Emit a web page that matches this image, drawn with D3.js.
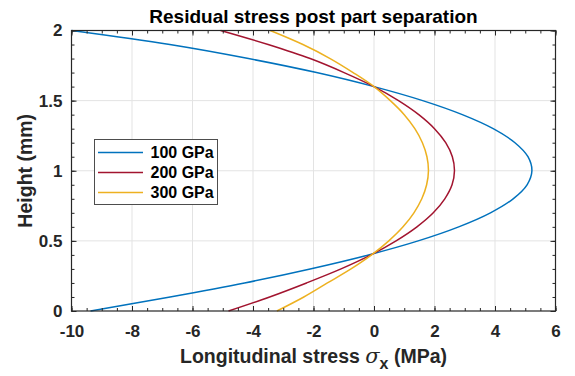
<!DOCTYPE html>
<html>
<head>
<meta charset="utf-8">
<script src="https://cdn.jsdelivr.net/npm/d3@7"></script>
<style>
  html, body { margin: 0; padding: 0; background: #fff; }
  svg { display: block; font-family: "Liberation Sans", Arial, Helvetica, sans-serif; }
</style>
</head>
<body>
<svg id="chart" width="575" height="376"></svg>
<script>
// Height through the part (mm)
const heights = [0.0, 0.1, 0.2, 0.3, 0.4, 0.5, 0.6, 0.7, 0.8, 0.9, 1.0,
                 1.1, 1.2, 1.3, 1.4, 1.5, 1.6, 1.7, 1.8, 1.9, 2.0];

// Longitudinal stress (MPa) at each height, per elastic modulus
const stress100 = [-9.37, -6.74, -4.28, -2.11, -0.18, 1.46, 2.80, 3.85, 4.60, 5.06, 5.22,
                   5.09, 4.66, 3.94, 2.92, 1.61, 0.00, -1.90, -4.15, -6.75, -10.0];
const stress200 = [-4.81, -3.45, -2.23, -1.09, -0.10, 0.73, 1.42, 1.96, 2.34, 2.58, 2.66,
                   2.59, 2.37, 2.00, 1.48, 0.81, 0.00, -0.99, -2.11, -3.50, -5.07];
const stress300 = [-3.21, -2.32, -1.54, -0.76, -0.08, 0.49, 0.96, 1.32, 1.58, 1.74, 1.80,
                   1.75, 1.60, 1.35, 1.00, 0.54, 0.00, -0.69, -1.45, -2.35, -3.43];

const seriesNames = ["100 GPa", "200 GPa", "300 GPa"];
const seriesColors = ["#0072BD", "#A2142F", "#EDB120"];
const seriesValues = [stress100, stress200, stress300];

const xTicks = [-10, -8, -6, -4, -2, 0, 2, 4, 6];
const yTicks = [0, 0.5, 1, 1.5, 2];

const svg = d3.select("#chart");
const margin = { left: 71.5, right: 19.5, top: 30.5, bottom: 65 };
const W = 575, H = 376;
const iw = W - margin.left - margin.right;
const ih = H - margin.top - margin.bottom;

const x = d3.scaleLinear().domain([-10, 6]).range([margin.left, margin.left + iw]);
const y = d3.scaleLinear().domain([0, 2]).range([margin.top + ih, margin.top]);

const axisColor = "#262626";
const g = svg.append("g");

// Grid
g.append("g").selectAll("line").data(xTicks.slice(1, -1)).join("line")
  .attr("x1", d => x(d)).attr("x2", d => x(d))
  .attr("y1", y(0)).attr("y2", y(2))
  .attr("stroke", "#e3e3e3").attr("stroke-width", 1);
g.append("g").selectAll("line").data(yTicks.slice(1, -1)).join("line")
  .attr("x1", x(-10)).attr("x2", x(6))
  .attr("y1", d => y(d)).attr("y2", d => y(d))
  .attr("stroke", "#e3e3e3").attr("stroke-width", 1);

// Curves
const line = d3.line()
  .x(d => x(d[0]))
  .y(d => y(d[1]))
  .curve(d3.curveCatmullRom.alpha(0.5));

const plot = g.append("g");
seriesValues.forEach((vals, i) => {
  const pts = vals.map((v, j) => [v, heights[j]]);
  plot.append("path")
    .datum(pts)
    .attr("d", line)
    .attr("fill", "none")
    .attr("stroke", seriesColors[i])
    .attr("stroke-width", 1.5);
});

// Axes with inward ticks on all four sides
const xMinor = d3.range(-10, 6.001, 0.5);
const yMinor = d3.range(0, 2.0001, 0.1);

function addAxis(axisGen, transform) {
  const a = g.append("g").attr("transform", transform).call(axisGen);
  a.select(".domain").remove();
  a.selectAll(".tick line").attr("stroke", axisColor).attr("stroke-width", 1);
  return a;
}

const bx = addAxis(d3.axisBottom(x).tickValues(xTicks).tickSize(-5).tickPadding(14)
  .tickFormat(d => d3.format("d")(d).replace("−", "-")), `translate(0,${y(0)})`);
bx.selectAll("text").attr("font-size", 17).attr("font-weight", "bold").attr("fill", axisColor);
addAxis(d3.axisBottom(x).tickValues(xMinor).tickSize(-3).tickFormat(""), `translate(0,${y(0)})`);
addAxis(d3.axisTop(x).tickValues(xTicks).tickSize(-5).tickFormat(""), `translate(0,${y(2)})`);
addAxis(d3.axisTop(x).tickValues(xMinor).tickSize(-3).tickFormat(""), `translate(0,${y(2)})`);

const ly = addAxis(d3.axisLeft(y).tickValues(yTicks).tickSize(-5).tickPadding(9)
  .tickFormat(d => String(d)), `translate(${x(-10)},0)`);
ly.selectAll("text").attr("font-size", 17).attr("font-weight", "bold").attr("fill", axisColor);
addAxis(d3.axisLeft(y).tickValues(yMinor).tickSize(-3).tickFormat(""), `translate(${x(-10)},0)`);
addAxis(d3.axisRight(y).tickValues(yTicks).tickSize(-5).tickFormat(""), `translate(${x(6)},0)`);
addAxis(d3.axisRight(y).tickValues(yMinor).tickSize(-3).tickFormat(""), `translate(${x(6)},0)`);

// Box
g.append("rect")
  .attr("x", x(-10)).attr("y", y(2))
  .attr("width", x(6) - x(-10)).attr("height", y(0) - y(2))
  .attr("fill", "none").attr("stroke", axisColor).attr("stroke-width", 1.2);

// Title
svg.append("text")
  .attr("x", (x(-10) + x(6)) / 2).attr("y", 23)
  .attr("text-anchor", "middle")
  .attr("font-size", 19).attr("font-weight", "bold").attr("fill", "#000")
  .text("Residual stress post part separation");

// X axis label
const xl = svg.append("text")
  .attr("x", (x(-10) + x(6)) / 2).attr("y", 362.5)
  .attr("text-anchor", "middle")
  .attr("font-size", 19.5).attr("font-weight", "bold").attr("fill", axisColor);
xl.append("tspan").text("Longitudinal stress ");
xl.append("tspan").attr("font-style", "italic").attr("font-weight", "normal")
  .attr("font-family", "'DejaVu Serif', 'Liberation Serif', serif").attr("font-size", 21).text("σ");
xl.append("tspan").attr("dy", 6).attr("font-size", 16).text("x");
xl.append("tspan").attr("dy", -6).text(" (MPa)");

// Y axis label
svg.append("text")
  .attr("transform", `translate(32,${(y(0) + y(2)) / 2}) rotate(-90)`)
  .attr("text-anchor", "middle")
  .attr("font-size", 19.5).attr("font-weight", "bold").attr("fill", axisColor)
  .text("Height (mm)");

// Legend
const lg = svg.append("g");
lg.append("rect")
  .attr("x", 94.5).attr("y", 139.5).attr("width", 123).attr("height", 65)
  .attr("fill", "#fff").attr("stroke", "#4d4d4d").attr("stroke-width", 1);
seriesNames.forEach((name, i) => {
  const cy = 152.5 + i * 20;
  lg.append("line")
    .attr("x1", 98).attr("x2", 143).attr("y1", cy).attr("y2", cy)
    .attr("stroke", seriesColors[i]).attr("stroke-width", 1.5);
  lg.append("text")
    .attr("x", 150.5).attr("y", cy + 5.5)
    .attr("font-size", 16).attr("font-weight", "bold").attr("fill", "#000")
    .text(name);
});
</script>
</body>
</html>
